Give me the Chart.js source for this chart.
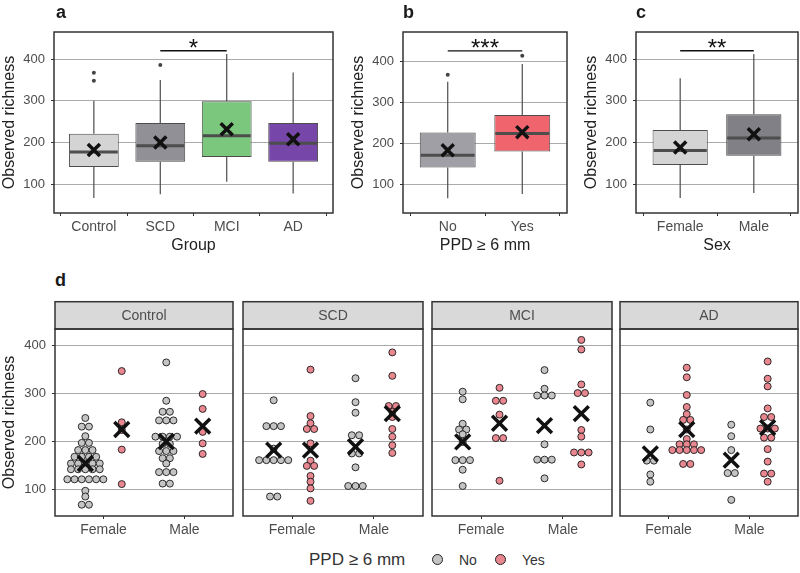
<!DOCTYPE html>
<html>
<head>
<meta charset="utf-8">
<script src="https://cdn.jsdelivr.net/npm/chart.js@4.4.0/dist/chart.umd.min.js"></script>
<style>
  body { margin: 0; background: #fff; font-family: 'Liberation Sans', Arial, sans-serif; }
  #fig { position: relative; width: 800px; height: 573px; overflow: hidden; background: #fff; }
  #fig canvas { position: absolute; }
  .tag { position: absolute; font-weight: bold; font-size: 18px; line-height: 18px; color: #1a1a1a; }
  .lg { position: absolute; line-height: 1; color: #333; white-space: nowrap; }
  .key { position: absolute; width: 11px; height: 11px; box-sizing: border-box; border: 1px solid #222; border-radius: 50%; }
</style>
</head>
<body>
<div id="fig">
  <canvas id="panelA" width="340" height="255" style="left:0;top:0"></canvas>
  <canvas id="panelB" width="225" height="255" style="left:349px;top:0"></canvas>
  <canvas id="panelC" width="218" height="255" style="left:582px;top:0"></canvas>
  <canvas id="facet0" width="240" height="240" style="left:0;top:296px"></canvas>
  <canvas id="facet1" width="184" height="240" style="left:241px;top:296px"></canvas>
  <canvas id="facet2" width="184" height="240" style="left:430px;top:296px"></canvas>
  <canvas id="facet3" width="182" height="240" style="left:618px;top:296px"></canvas>
  <div class="tag" style="left:56px;top:3px">a</div>
  <div class="tag" style="left:403px;top:3px">b</div>
  <div class="tag" style="left:636px;top:3px">c</div>
  <div class="tag" style="left:55px;top:271px">d</div>
  <div class="lg" style="left:309px;top:551px;font-size:17px">PPD ≥ 6 mm</div>
  <span class="key" style="left:432px;top:554px;background:#c4c4c4"></span>
  <div class="lg" style="left:459px;top:553px;font-size:14px">No</div>
  <span class="key" style="left:495px;top:554px;background:#e8878f"></span>
  <div class="lg" style="left:522px;top:553px;font-size:14px">Yes</div>
</div>
<script>
// shared y ticks
const yTicks = [100, 200, 300, 400];

// panel a: by group
const groups = ['Control', 'SCD', 'MCI', 'AD'];
const groupLow = [67, 76, 106, 78];
const groupQ1 = [141, 154, 165, 154];
const groupMed = [177, 192, 216, 198];
const groupQ3 = [221, 247, 299, 247];
const groupHigh = [300, 350, 412, 368];
const groupMean = [182, 200, 232, 208];
const groupOut = [[348, 367], [386], [], []];

// panel b: PPD >= 6 mm
const ppd = ['No', 'Yes'];
const ppdLow = [66, 76];
const ppdQ1 = [141, 180];
const ppdMed = [171, 224];
const ppdQ3 = [226, 269];
const ppdHigh = [350, 393];
const ppdMean = [183, 227];
const ppdOut = [[367], [413]];

// panel c: sex
const sexes = ['Female', 'Male'];
const sexLow = [67, 79];
const sexQ1 = [146, 168];
const sexMed = [181, 211];
const sexQ3 = [230, 268];
const sexHigh = [354, 412];
const sexMean = [188, 220];
const sexOut = [[], []];

// panel d: individual values, [Female, Male] per group
const controlNo = [
  [249, 231, 231, 211, 197, 197, 182, 182, 182, 168, 168, 168, 168, 154, 154, 154, 154, 154,
   142, 142, 142, 142, 142, 121, 121, 121, 121, 121, 121, 97, 85, 68, 68],
  [365, 285, 262, 262, 244, 244, 244, 210, 210, 210, 210, 195, 195, 180, 180, 180, 165, 165,
   154, 136, 136, 136, 112, 112]
];
const controlYes = [[347, 240, 224, 183, 111], [299, 268, 220, 196, 174]];
const scdNo = [
  [286, 232, 232, 232, 185, 161, 161, 161, 161, 161, 85, 85],
  [332, 282, 260, 213, 213, 175, 175, 146, 107, 107, 107]
];
const scdYes = [
  [350, 253, 238, 226, 226, 196, 160, 149, 149, 128, 116, 102, 76],
  [386, 337, 274, 274, 262, 251, 226, 210, 192, 176]
];
const mciNo = [
  [304, 288, 237, 225, 225, 215, 199, 161, 161, 161, 141, 107],
  [349, 310, 296, 296, 296, 194, 162, 162, 162, 123]
];
const mciYes = [
  [312, 285, 285, 256, 207, 207, 118],
  [412, 392, 319, 301, 301, 224, 210, 177, 177, 177, 152]
];
const adNo = [
  [281, 225, 160, 160, 131, 116],
  [235, 211, 182, 134, 134, 78]
];
const adYes = [
  [354, 334, 297, 272, 257, 245, 245, 225, 205, 194, 194, 194, 182, 182, 182, 182, 182, 153, 153],
  [367, 331, 315, 269, 251, 251, 227, 227, 227, 208, 208, 184, 158, 133, 133, 116]
];
// group means shown as crosses, [Female, Male]
const meanNo = [[154, 200], [182, 189], [199, 233], [174, 161]];
const meanYes = [[225, 232], [182, 258], [238, 258], [225, 229]];

const facets = ['Control', 'SCD', 'MCI', 'AD'];
const facetNo = [controlNo, scdNo, mciNo, adNo];
const facetYes = [controlYes, scdYes, mciYes, adYes];

const GREY = '#c4c4c4';
const PINK = '#e8878f';
const DOT_STEP = 0.089;
const DODGE = 0.225;

Chart.defaults.font.family = "'Liberation Sans', Arial, sans-serif";
Chart.defaults.color = '#4d4d4d';
Chart.defaults.animation = false;
Chart.defaults.plugins.legend.display = false;
Chart.defaults.plugins.tooltip.enabled = false;

function noPadding(ax) {
  ax.paddingLeft = 0;
  ax.paddingRight = 0;
  ax.paddingTop = 0;
  ax.paddingBottom = 0;
}

function yAxis(min, max, width) {
  const show = width > 0;
  return {
    min: min, max: max,
    afterBuildTicks: ax => { ax.ticks = yTicks.map(v => ({ value: v })); },
    afterFit: ax => { ax.width = width; noPadding(ax); },
    border: { display: false },
    grid: { color: '#ababab', lineWidth: 1, drawTicks: show, tickLength: 3, tickColor: '#333' },
    ticks: { display: show, padding: 6, font: { size: 13 }, color: '#4d4d4d' },
    title: { display: show, text: 'Observed richness', font: { size: 16 }, color: '#222', padding: 0 }
  };
}

function xAxis(labels, title, height) {
  return {
    type: 'linear', min: 0.4, max: labels.length + 0.6, offset: false,
    afterBuildTicks: ax => { ax.ticks = labels.map((l, i) => ({ value: i + 1 })); },
    afterFit: ax => { ax.height = height; noPadding(ax); },
    border: { display: false },
    grid: { drawOnChartArea: false, drawTicks: true, tickLength: 3, tickColor: '#333' },
    ticks: { callback: (v, i) => labels[i], padding: 3, autoSkip: false, maxRotation: 0, font: { size: 14 }, color: '#4d4d4d' },
    title: { display: !!title, text: title || '', font: { size: 16 }, color: '#222', padding: 0 }
  };
}

// dark border round the panel
const framePlugin = {
  id: 'frame',
  afterDraw(chart) {
    const { ctx, chartArea: a } = chart;
    ctx.save();
    ctx.strokeStyle = '#333';
    ctx.lineWidth = 1.5;
    ctx.strokeRect(a.left, a.top, a.right - a.left, a.bottom - a.top);
    ctx.restore();
  }
};

// whiskers, medians and the significance bracket of a box panel
function boxPlugin(st) {
  return {
    id: 'boxExtras',
    beforeDatasetsDraw(chart) {
      const { ctx, scales: { x, y } } = chart;
      ctx.save();
      ctx.strokeStyle = '#4d4d4d';
      ctx.lineWidth = 1.2;
      st.low.forEach((lo, i) => {
        const px = x.getPixelForValue(i + 1);
        ctx.beginPath();
        ctx.moveTo(px, y.getPixelForValue(lo));
        ctx.lineTo(px, y.getPixelForValue(st.q1[i]));
        ctx.moveTo(px, y.getPixelForValue(st.q3[i]));
        ctx.lineTo(px, y.getPixelForValue(st.high[i]));
        ctx.stroke();
      });
      ctx.restore();
    },
    afterDatasetDraw(chart, args) {
      if (args.index !== 0) return;
      const { ctx, scales: { y } } = chart;
      ctx.save();
      ctx.strokeStyle = '#4d4d4d';
      ctx.lineWidth = 3;
      args.meta.data.forEach((bar, i) => {
        const py = y.getPixelForValue(st.med[i]);
        ctx.beginPath();
        ctx.moveTo(bar.x - bar.width / 2 + 1, py);
        ctx.lineTo(bar.x + bar.width / 2 - 1, py);
        ctx.stroke();
      });
      ctx.restore();
    },
    afterDraw(chart) {
      const { ctx, scales: { x, y } } = chart;
      const s = st.sig;
      const py = y.getPixelForValue(s.y);
      const x1 = x.getPixelForValue(s.from), x2 = x.getPixelForValue(s.to);
      ctx.save();
      ctx.strokeStyle = '#111';
      ctx.lineWidth = 1.3;
      ctx.beginPath();
      ctx.moveTo(x1, py);
      ctx.lineTo(x2, py);
      ctx.stroke();
      ctx.fillStyle = '#111';
      ctx.font = "24px 'Liberation Sans', Arial, sans-serif";
      ctx.textAlign = 'center';
      ctx.textBaseline = 'alphabetic';
      ctx.fillText(s.text, (x1 + x2) / 2, py + 5);
      ctx.restore();
    }
  };
}

function boxChart(id, labels, st, colors, xTitle, yMin, yMax, padRight) {
  const outPts = [];
  st.out.forEach((arr, i) => arr.forEach(v => outPts.push({ x: i + 1, y: v })));
  return new Chart(document.getElementById(id), {
    type: 'bar',
    data: {
      datasets: [
        {
          type: 'bar',
          data: labels.map((l, i) => ({ x: i + 1, y: [st.q1[i], st.q3[i]] })),
          backgroundColor: colors,
          borderColor: '#4d4d4d',
          borderWidth: 1,
          borderSkipped: false,
          barPercentage: 0.75,
          categoryPercentage: 1,
          order: 2
        },
        {
          type: 'scatter',
          data: outPts,
          pointRadius: 2,
          backgroundColor: '#444',
          borderWidth: 0,
          order: 1
        },
        {
          type: 'scatter',
          data: labels.map((l, i) => ({ x: i + 1, y: st.mean[i] })),
          pointStyle: 'crossRot',
          pointRadius: 8.5,
          borderColor: '#111',
          borderWidth: 3.5,
          order: 0
        }
      ]
    },
    options: {
      responsive: false,
      devicePixelRatio: 1,
      layout: { autoPadding: false, padding: { top: 32, right: padRight, left: 0, bottom: 0 } },
      scales: { x: xAxis(labels, xTitle, 42), y: yAxis(yMin, yMax, 54) }
    },
    plugins: [boxPlugin(st), framePlugin]
  });
}

boxChart('panelA', groups, {
  low: groupLow, q1: groupQ1, med: groupMed, q3: groupQ3, high: groupHigh,
  mean: groupMean, out: groupOut, sig: { from: 2, to: 3, y: 420, text: '*' }
}, ['#d4d4d4', '#909096', '#7bc77d', '#7646a8'], 'Group', 31, 465, 7);

boxChart('panelB', ppd, {
  low: ppdLow, q1: ppdQ1, med: ppdMed, q3: ppdQ3, high: ppdHigh,
  mean: ppdMean, out: ppdOut, sig: { from: 1, to: 2, y: 425, text: '***' }
}, ['#9f9fa5', '#f0656d'], 'PPD ≥ 6 mm', 30, 471, 7);

boxChart('panelC', sexes, {
  low: sexLow, q1: sexQ1, med: sexMed, q3: sexQ3, high: sexHigh,
  mean: sexMean, out: sexOut, sig: { from: 1, to: 2, y: 420, text: '**' }
}, ['#d4d4d4', '#808086'], 'Sex', 31, 465, 2);

// lay dots of equal value side by side, centred on the group position
function stackDots(values, center) {
  const counts = {};
  values.forEach(v => { counts[v] = (counts[v] || 0) + 1; });
  const seen = {};
  return values.map(v => {
    seen[v] = (seen[v] || 0) + 1;
    return { x: center + (seen[v] - 1 - (counts[v] - 1) / 2) * DOT_STEP, y: v };
  });
}

function stripPlugin(text) {
  return {
    id: 'strip',
    afterDraw(chart) {
      const { ctx, chartArea: a } = chart;
      const top = a.top - 27.3;
      ctx.save();
      ctx.fillStyle = '#d9d9d9';
      ctx.fillRect(a.left, top, a.right - a.left, a.top - top);
      ctx.strokeStyle = '#333';
      ctx.lineWidth = 1.5;
      ctx.strokeRect(a.left, top, a.right - a.left, a.top - top);
      ctx.fillStyle = '#4d4d4d';
      ctx.font = "14px 'Liberation Sans', Arial, sans-serif";
      ctx.textAlign = 'center';
      ctx.textBaseline = 'middle';
      ctx.fillText(text, (a.left + a.right) / 2, (top + a.top) / 2 + 1);
      ctx.restore();
    }
  };
}

function facetChart(f) {
  const first = f === 0;
  const noPts = [], yesPts = [], meanPts = [];
  sexes.forEach((s, i) => {
    noPts.push(...stackDots(facetNo[f][i], i + 1 - DODGE));
    yesPts.push(...stackDots(facetYes[f][i], i + 1 + DODGE));
    meanPts.push({ x: i + 1 - DODGE, y: meanNo[f][i] });
    meanPts.push({ x: i + 1 + DODGE, y: meanYes[f][i] });
  });
  const dot = { pointRadius: 3.5, borderColor: '#1a1a1a', borderWidth: 0.9, order: 1 };
  return new Chart(document.getElementById('facet' + f), {
    type: 'scatter',
    data: {
      datasets: [
        Object.assign({ label: 'No', data: noPts, backgroundColor: GREY }, dot),
        Object.assign({ label: 'Yes', data: yesPts, backgroundColor: PINK }, dot),
        { label: 'Mean', data: meanPts, pointStyle: 'crossRot', pointRadius: 10.5, borderColor: '#111', borderWidth: 3.5, order: 0 }
      ]
    },
    options: {
      responsive: false,
      devicePixelRatio: 1,
      layout: { autoPadding: false, padding: { top: 33, right: first ? 7 : 2, left: first ? 0 : 2, bottom: 0 } },
      scales: { x: xAxis(sexes, '', 20), y: yAxis(44.4, 434.8, first ? 55 : 0) }
    },
    plugins: [stripPlugin(facets[f]), framePlugin]
  });
}

facets.forEach((name, f) => facetChart(f));
</script>
</body>
</html>
